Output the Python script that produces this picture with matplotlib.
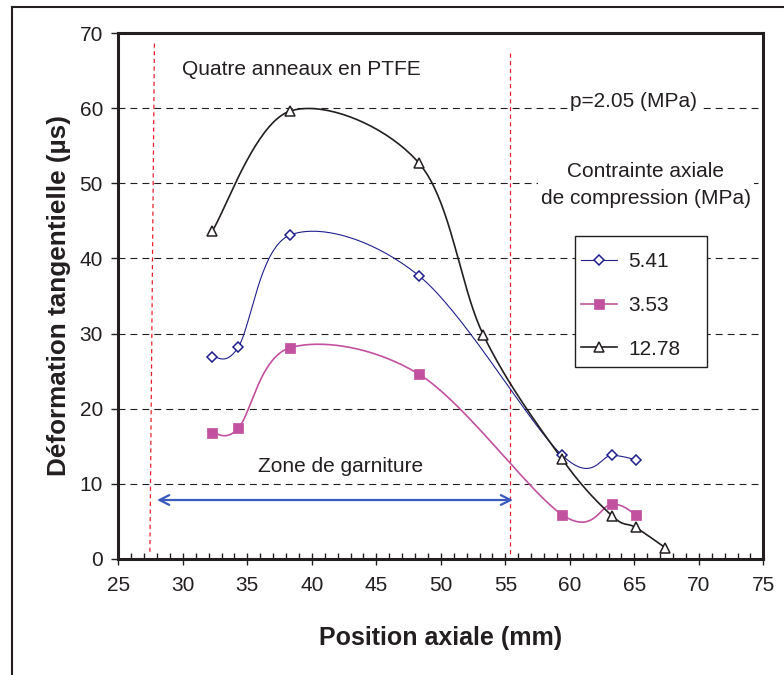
import numpy as np
import matplotlib
matplotlib.use('Agg')
import matplotlib.pyplot as plt
from matplotlib.lines import Line2D
from matplotlib.patches import Rectangle
from matplotlib.ticker import MultipleLocator

plt.rcParams['font.family'] = ['Liberation Sans', 'DejaVu Sans']
plt.rcParams['lines.scale_dashes'] = False

# ---- data ----
x_541 = [32.3, 34.3, 38.3, 48.3, 59.4, 63.3, 65.1]
y_541 = [26.9, 28.2, 43.1, 37.7, 13.8, 13.8, 13.2]
x_353 = [32.3, 34.3, 38.3, 48.3, 59.4, 63.3, 65.1]
y_353 = [16.8, 17.4, 28.1, 24.6, 5.9, 7.3, 5.9]
x_1278 = [32.3, 38.3, 48.3, 53.3, 59.4, 63.3, 65.1, 67.4]
y_1278 = [43.7, 59.6, 52.7, 29.8, 13.3, 5.7, 4.2, 1.5]
series_labels = ['5.41', '3.53', '12.78']
x_ticks = [25, 30, 35, 40, 45, 50, 55, 60, 65, 70, 75]
y_ticks = [0, 10, 20, 30, 40, 50, 60, 70]
zone_left = [27.8, 27.45]
zone_right = 55.35

INK = '#231f20'
BLUE = '#1f1f8c'
MAG = '#c2519f'
RED = '#e8202a'
ARROW = '#3a5bbd'

W, H = 784, 675
fig = plt.figure(figsize=(W / 100, H / 100), dpi=100)
ax = fig.add_axes([118.3 / W, 1 - 559 / H, (763.3 - 118.3) / W, 526 / H])
ax.set_xlim(x_ticks[0], x_ticks[-1])
ax.set_ylim(y_ticks[0], y_ticks[-1])


def smooth(xs, ys, n=40):
    pts = ax.transData.transform(np.column_stack([xs, ys]))
    out = [pts[0]]
    N = len(pts)
    t = np.linspace(0, 1, n)[1:, None]
    for i in range(N - 1):
        p0 = pts[i - 1] if i > 0 else pts[i]
        p1 = pts[i]
        p2 = pts[i + 1]
        p3 = pts[i + 2] if i + 2 < N else pts[i + 1]
        c1 = p1 + (p2 - p0) / 6
        c2 = p2 - (p3 - p1) / 6
        b = (1 - t) ** 3 * p1 + 3 * (1 - t) ** 2 * t * c1 + 3 * (1 - t) * t ** 2 * c2 + t ** 3 * p2
        out.extend(b)
    return ax.transData.inverted().transform(np.array(out))


# gridlines
for yv in y_ticks[1:-1]:
    ax.axhline(yv, color=INK, lw=0.8, linestyle=(0, (5, 3.6)), zorder=1)

# red zone lines
ax.plot([zone_left[0], zone_left[1]], [68.6, 0.9], color=RED, lw=0.9,
        linestyle=(0, (3, 2.5)), zorder=2)
ax.plot([zone_right, zone_right], [67.4, 0.4], color=RED, lw=0.9,
        linestyle=(0, (3, 2.5)), zorder=2)

# series
specs = [
    (x_541, y_541, BLUE, 0.8, dict(marker='D', ms=4.6, mfc='white', mec=BLUE, mew=1.1)),
    (x_353, y_353, MAG, 1.2, dict(marker='s', ms=7.6, mfc=MAG, mec=MAG, mew=0.5)),
    (x_1278, y_1278, INK, 1.2, dict(marker='^', ms=7.0, mfc='white', mec=INK, mew=1.1)),
]
handles = []
for xs, ys, col, lw, mk in specs:
    c = smooth(xs, ys)
    ax.plot(c[:, 0], c[:, 1], color=col, lw=lw, zorder=3)
    ax.plot(xs, ys, linestyle='none', zorder=4, **mk)
    handles.append(Line2D([], [], color=col, lw=lw, **mk))

# arrow
ax.annotate('', xy=(28.0, 7.85), xytext=(55.6, 7.85),
            arrowprops=dict(arrowstyle='<->,head_length=0.7,head_width=0.35',
                            color=ARROW, lw=1.6, shrinkA=0, shrinkB=0), zorder=3)

# texts
tkw = dict(fontsize=15, color=INK, ha='center', va='center', zorder=5)
ax.text(39.16, 65.1, 'Quatre anneaux en PTFE', **tkw)
ax.text(64.96, 60.9, 'p=2.05 (MPa)',
        bbox=dict(facecolor='white', edgecolor='none', pad=2), **tkw)
ax.text(65.9, 49.8, 'Contrainte axiale\nde compression (MPa)', multialignment='center',
        linespacing=1.5, bbox=dict(facecolor='white', edgecolor='none', pad=2), **tkw)
ax.text(42.2, 12.3, 'Zone de garniture',
        bbox=dict(facecolor='white', edgecolor='none', pad=4), **tkw)

# legend: separate frame + frameless content
ax.add_patch(Rectangle((575 / W, 1 - 367 / H), 132 / W, 131 / H, transform=fig.transFigure,
                       facecolor='white', edgecolor=INK, lw=1.0, zorder=6, clip_on=False))
leg = ax.legend(handles, series_labels, loc='upper left',
                bbox_to_anchor=(581 / W, 1 - 252.5 / H), bbox_transform=fig.transFigure,
                fontsize=15, frameon=False,
                handlelength=1.75, handletextpad=0.5, borderpad=0.0,
                labelspacing=1.18, borderaxespad=0)
leg.set_zorder(7)
for t in leg.get_texts():
    t.set_color(INK)

# axes styling
for s in ax.spines.values():
    s.set_linewidth(2.2)
    s.set_color(INK)
ax.set_xticks(x_ticks)
ax.set_yticks(y_ticks)
ax.xaxis.set_minor_locator(MultipleLocator(1))
ax.tick_params(axis='x', which='major', direction='inout', length=8, width=1, color=INK,
               labelsize=15, labelcolor=INK, pad=8.5)
ax.tick_params(axis='x', which='minor', direction='in', length=4, width=1, color=INK)
ax.tick_params(axis='y', which='major', direction='out', length=5, width=1, color=INK,
               labelsize=15, labelcolor=INK, pad=6)
ax.set_xlabel('Position axiale (mm)', fontsize=18, fontweight='bold', color=INK, labelpad=22)
ax.set_ylabel('Déformation tangentielle (µs)', fontsize=18.8, fontweight='bold', color=INK, labelpad=6)

# outer frame (left and top edges visible)
fig.add_artist(Line2D([12 / W, 12 / W], [0, 1 - 7 / H], transform=fig.transFigure,
                      color=INK, lw=1.5))
fig.add_artist(Line2D([12 / W, 1], [1 - 7 / H, 1 - 7 / H], transform=fig.transFigure,
                      color=INK, lw=1.5))

fig.savefig('out.png', dpi=100)
